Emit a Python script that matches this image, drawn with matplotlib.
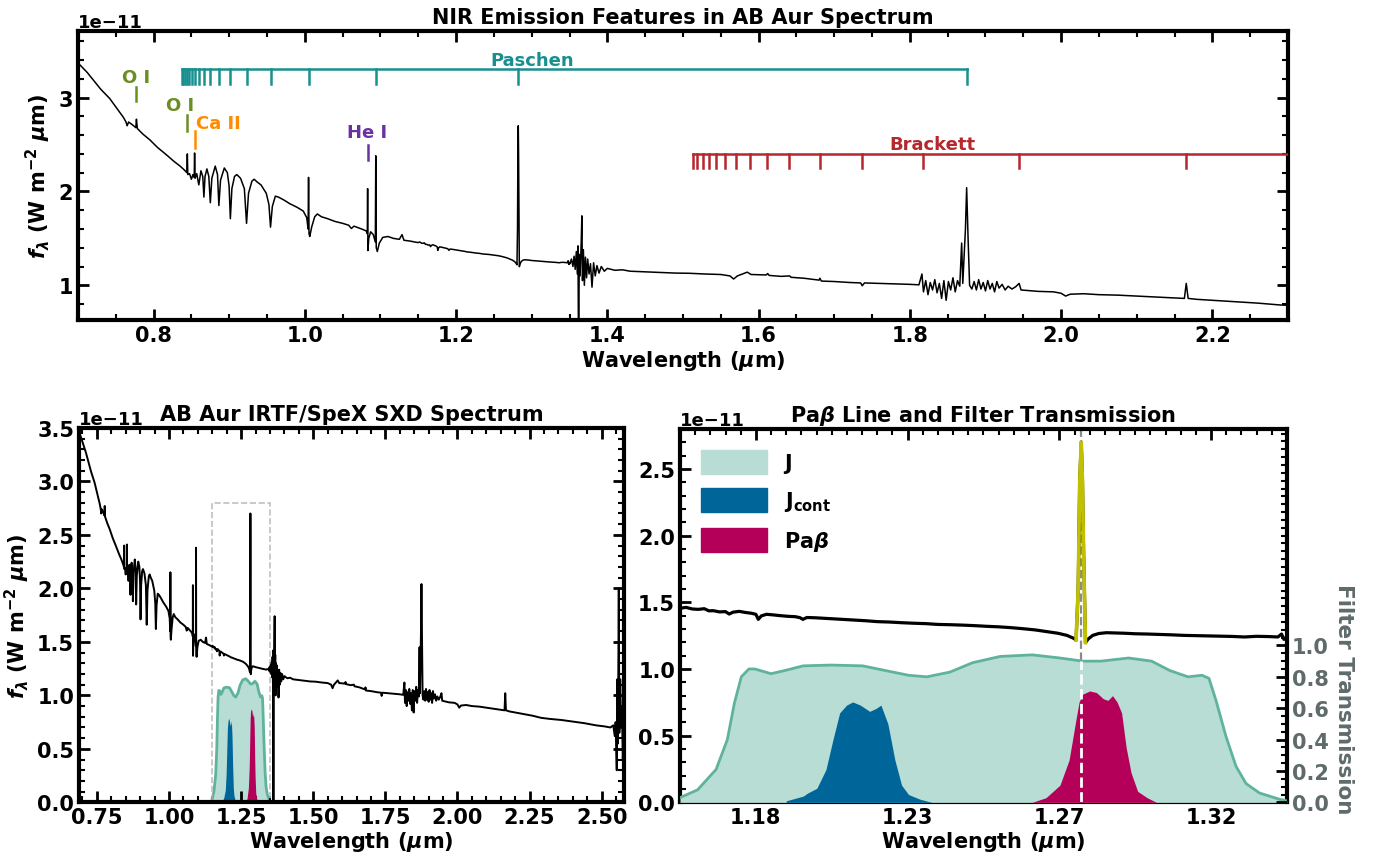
import numpy as np
import matplotlib
matplotlib.use("Agg")
import matplotlib.pyplot as plt
from matplotlib.ticker import AutoMinorLocator, MultipleLocator, FormatStrFormatter, FixedLocator
from matplotlib.patches import Patch, Rectangle

# ---- colours ----
PASCHEN = "#17908f"
BRACKETT = "#b5282e"
OI_C = "#6b8e23"
CAII_C = "#ff8c00"
HEI_C = "#6a32a0"
J_FILL = "#b7ddd4"
J_EDGE = "#5fb39c"
JCONT_C = "#00669a"
PAB_C = "#b5005a"
CORE_C = "#c0c000"
GRAYT = "#5f6a6a"

plt.rcParams.update({
    "font.family": "DejaVu Sans",
    "font.weight": "bold",
    "axes.labelweight": "bold",
    "axes.titleweight": "bold",
    "font.size": 15,
    "mathtext.fontset": "dejavusans",
    "xtick.direction": "in",
    "ytick.direction": "in",
    "xtick.top": True,
    "ytick.right": True,
    "axes.linewidth": 3,
    "xtick.major.size": 8, "ytick.major.size": 8,
    "xtick.major.width": 2, "ytick.major.width": 2,
    "xtick.minor.size": 4.5, "ytick.minor.size": 4.5,
    "xtick.minor.width": 1.5, "ytick.minor.width": 1.5,
    "xtick.labelsize": 15, "ytick.labelsize": 15,
})

# ---- spectrum (flux in units of 1e-11 W m^-2 um) ----
blue_pts = [
    (0.688, 3.46), (0.694, 3.42), (0.700, 3.37), (0.706, 3.32), (0.712, 3.27),
    (0.720, 3.19), (0.730, 3.09), (0.742, 2.99), (0.752, 2.88), (0.760, 2.79),
    (0.7635, 2.74), (0.7650, 2.70), (0.7670, 2.74), (0.772, 2.71), (0.7765, 2.68),
    (0.7773, 2.77), (0.7785, 2.67), (0.786, 2.61), (0.795, 2.55), (0.805, 2.47),
    (0.817, 2.39), (0.827, 2.32), (0.835, 2.27), (0.8405, 2.23), (0.8440, 2.20),
    (0.8446, 2.40), (0.8452, 2.18), (0.8475, 2.19), (0.8500, 2.13), (0.8520, 2.18),
    (0.8537, 2.15), (0.8542, 2.41), (0.8548, 2.14), (0.8570, 2.19), (0.8598, 2.07),
    (0.8626, 2.22), (0.8650, 2.16), (0.8665, 1.94), (0.8680, 2.16), (0.8705, 2.24),
    (0.8730, 2.16), (0.8750, 1.88), (0.8770, 2.14), (0.8815, 2.27), (0.8845, 2.18),
    (0.8863, 1.85), (0.8885, 2.12), (0.8935, 2.25), (0.8975, 2.20), (0.8998, 2.06),
    (0.9015, 1.71), (0.9035, 2.03), (0.9070, 2.16), (0.9100, 2.18), (0.9150, 2.14),
    (0.9200, 2.03), (0.9229, 1.66), (0.9255, 1.98), (0.9300, 2.11), (0.9330, 2.13),
    (0.9370, 2.10), (0.9420, 2.07), (0.9490, 1.98), (0.9525, 1.86), (0.9546, 1.62),
    (0.9570, 1.84), (0.9610, 1.95), (0.9650, 1.94), (0.9720, 1.91), (0.9800, 1.87),
    (0.9900, 1.83), (0.9980, 1.79), (1.0025, 1.72), (1.0043, 1.60), (1.0049, 2.15),
    (1.0055, 1.55), (1.0065, 1.52), (1.0090, 1.62), (1.0130, 1.73), (1.0165, 1.76),
    (1.0220, 1.73), (1.0300, 1.71), (1.0400, 1.68), (1.0500, 1.66), (1.0580, 1.64),
    (1.0615, 1.605), (1.0650, 1.63), (1.0750, 1.60), (1.0810, 1.58), (1.0826, 1.55),
    (1.0830, 2.03), (1.0834, 1.37), (1.0845, 1.50), (1.0870, 1.57), (1.0905, 1.54),
    (1.0932, 1.46), (1.0938, 2.38), (1.0944, 1.40), (1.0958, 1.36), (1.0985, 1.45),
    (1.1030, 1.51), (1.1100, 1.52), (1.1170, 1.50), (1.1250, 1.49), (1.1285, 1.54),
    (1.1310, 1.48), (1.1400, 1.47), (1.1460, 1.46),
]

# J-band region around Pa beta (also shown in the zoom panel)
pab_pts = [
    (1.1500, 1.455), (1.1520, 1.462), (1.1540, 1.450), (1.1560, 1.447), (1.1580, 1.452),
    (1.1595, 1.436), (1.1610, 1.437), (1.1630, 1.428), (1.1650, 1.430), (1.1662, 1.412),
    (1.1675, 1.426), (1.1695, 1.432), (1.1715, 1.424), (1.1735, 1.418), (1.1750, 1.410),
    (1.1758, 1.372), (1.1768, 1.398), (1.1785, 1.410), (1.1805, 1.406), (1.1830, 1.400),
    (1.1855, 1.395), (1.1880, 1.392), (1.1895, 1.385), (1.1905, 1.372), (1.1918, 1.386),
    (1.1945, 1.384), (1.1975, 1.380), (1.2005, 1.376), (1.2040, 1.371), (1.2075, 1.366),
    (1.2110, 1.362), (1.2150, 1.355), (1.2190, 1.352), (1.2230, 1.347), (1.2270, 1.343),
    (1.2310, 1.340), (1.2350, 1.334), (1.2390, 1.332), (1.2430, 1.329), (1.2470, 1.325),
    (1.2510, 1.320), (1.2550, 1.316), (1.2590, 1.310), (1.2630, 1.302), (1.2670, 1.293),
    (1.2710, 1.280), (1.2745, 1.268), (1.2775, 1.252), (1.2795, 1.232), (1.2805, 1.218),
    (1.2812, 1.600), (1.2817, 2.400), (1.2822, 2.700), (1.2826, 2.420), (1.2830, 1.850),
    (1.2836, 1.198), (1.2845, 1.225), (1.2860, 1.252), (1.2880, 1.266), (1.2905, 1.272),
    (1.2935, 1.270), (1.2965, 1.268), (1.3000, 1.264), (1.3040, 1.262), (1.3080, 1.259),
    (1.3120, 1.256), (1.3160, 1.252), (1.3200, 1.250), (1.3240, 1.248), (1.3280, 1.246),
    (1.3320, 1.244), (1.3360, 1.240), (1.3400, 1.245), (1.3440, 1.243), (1.3470, 1.240),
    (1.3482, 1.262), (1.3490, 1.222), (1.3500, 1.242),
]

red_pts = [
    (1.3505, 1.23), (1.3525, 1.28), (1.3545, 1.20), (1.3560, 1.31), (1.3575, 1.17),
    (1.3590, 1.36), (1.3603, 1.12), (1.3612, 1.42), (1.3620, 0.02), (1.3628, 1.33),
    (1.3640, 1.10), (1.3655, 1.48), (1.3663, 1.74), (1.3671, 1.05), (1.3683, 1.38),
    (1.3696, 1.00), (1.3710, 1.30), (1.3725, 1.08), (1.3740, 1.28), (1.3758, 1.12),
    (1.3777, 1.23), (1.3797, 0.98), (1.3818, 1.24), (1.3840, 1.10), (1.3862, 1.21),
    (1.3890, 1.13), (1.3920, 1.20), (1.3960, 1.15), (1.4000, 1.18), (1.4100, 1.16),
    (1.4200, 1.165), (1.4300, 1.15), (1.4450, 1.145), (1.4600, 1.14), (1.4750, 1.135),
    (1.4900, 1.13), (1.5080, 1.128), (1.5300, 1.12), (1.5500, 1.115), (1.5620, 1.10),
    (1.5670, 1.067), (1.5720, 1.10), (1.5850, 1.14), (1.5900, 1.115), (1.6100, 1.11),
    (1.6120, 1.125), (1.6140, 1.105), (1.6300, 1.095), (1.6410, 1.10), (1.6430, 1.085),
    (1.6600, 1.075), (1.6800, 1.055), (1.6810, 1.075), (1.6830, 1.045), (1.7000, 1.04),
    (1.7200, 1.03), (1.7350, 1.025), (1.7370, 0.995), (1.7400, 1.025), (1.7600, 1.02),
    (1.7800, 1.015), (1.8000, 1.01), (1.8120, 1.005), (1.8160, 1.12), (1.8180, 0.93),
    (1.8210, 1.05), (1.8240, 0.90), (1.8270, 1.03), (1.8300, 0.95), (1.8330, 1.06),
    (1.8360, 0.92), (1.8390, 1.02), (1.8420, 0.86), (1.8450, 1.05), (1.8480, 0.84),
    (1.8510, 1.04), (1.8540, 0.95), (1.8570, 1.08), (1.8600, 0.93), (1.8630, 1.05),
    (1.8660, 0.99), (1.8685, 1.45), (1.8700, 1.02), (1.8735, 1.60), (1.8751, 2.04),
    (1.8770, 1.50), (1.8790, 1.00), (1.8820, 0.96), (1.8850, 1.04), (1.8880, 0.95),
    (1.8910, 1.06), (1.8940, 0.96), (1.8970, 1.03), (1.9000, 0.94), (1.9030, 1.05),
    (1.9060, 0.96), (1.9090, 1.02), (1.9120, 0.93), (1.9150, 1.04), (1.9180, 0.97),
    (1.9220, 1.01), (1.9260, 0.95), (1.9300, 0.99), (1.9350, 0.96), (1.9400, 0.985),
    (1.9445, 1.02), (1.9470, 0.95), (1.9550, 0.945), (1.9700, 0.935), (1.9900, 0.93),
    (2.0000, 0.915), (2.0060, 0.885), (2.0120, 0.905), (2.0300, 0.91), (2.0500, 0.90),
    (2.0750, 0.895), (2.1000, 0.885), (2.1250, 0.875), (2.1500, 0.865), (2.1630, 0.86),
    (2.1655, 1.02), (2.1680, 0.86), (2.1800, 0.85), (2.2000, 0.84), (2.2300, 0.825),
    (2.2600, 0.81), (2.2900, 0.79), (2.3200, 0.78), (2.3600, 0.77), (2.4000, 0.755),
    (2.4400, 0.74), (2.4800, 0.72), (2.5100, 0.71), (2.5300, 0.70), (2.5400, 0.72),
    (2.5450, 0.62), (2.5480, 0.75), (2.5520, 0.30), (2.5540, 1.15), (2.5560, 0.55),
    (2.5590, 2.00), (2.5610, 0.65), (2.5640, 1.15), (2.5670, 0.70), (2.5700, 0.90),
    (2.5730, 0.40), (2.5760, 0.70),
]

spec = np.array(blue_pts + pab_pts + red_pts)
wl = spec[:, 0]
flux = spec[:, 1] * 1e-11

# ---- filter transmission curves ----
j_wl = [1.150, 1.1558, 1.1619, 1.1656, 1.1679, 1.1702, 1.1727, 1.1747, 1.180, 1.1845,
        1.1906, 1.1996, 1.2102, 1.2177, 1.2253, 1.2313, 1.2389, 1.2464, 1.2555, 1.2661,
        1.2752, 1.2827, 1.2887, 1.2978, 1.3054, 1.3114, 1.3174, 1.3220, 1.3243, 1.3266,
        1.3299, 1.3332, 1.3365, 1.3409, 1.3475, 1.3500]
j_tr = [0.03, 0.08, 0.21, 0.40, 0.63, 0.80, 0.85, 0.85, 0.82, 0.84,
        0.87, 0.875, 0.87, 0.84, 0.81, 0.80, 0.83, 0.89, 0.93, 0.94,
        0.92, 0.90, 0.90, 0.92, 0.90, 0.84, 0.80, 0.81, 0.79, 0.65,
        0.42, 0.23, 0.12, 0.06, 0.02, 0.01]

jcont_wl = [1.1850, 1.1906, 1.1921, 1.1951, 1.1981, 1.2004, 1.2026, 1.2049, 1.2069, 1.2094,
            1.2125, 1.2147, 1.2162, 1.2185, 1.2208, 1.2230, 1.2253, 1.2291, 1.2330]
jcont_tr = [0.01, 0.04, 0.06, 0.09, 0.21, 0.40, 0.57, 0.62, 0.64, 0.62,
            0.58, 0.60, 0.62, 0.50, 0.27, 0.11, 0.05, 0.02, 0.00]

pab_wl = [1.2660, 1.2706, 1.2752, 1.2782, 1.2804, 1.2815, 1.2827, 1.2850, 1.2872, 1.2895,
          1.2910, 1.2925, 1.2940, 1.2955, 1.2970, 1.2986, 1.3008, 1.3039, 1.3070]
pab_tr = [0.00, 0.03, 0.11, 0.27, 0.52, 0.64, 0.69, 0.71, 0.70, 0.66,
          0.65, 0.68, 0.64, 0.57, 0.35, 0.19, 0.07, 0.03, 0.00]

# ---- line identifications ----
paschen_wl = [1.8751, 1.2818, 1.0938, 1.0049, 0.9546, 0.9229, 0.9015, 0.8863, 0.8750,
              0.8665, 0.8598, 0.8545, 0.8502, 0.8467, 0.8437, 0.8413, 0.8392, 0.8374]
brackett_wl = [2.6252, 2.1655, 1.9445, 1.8174, 1.7362, 1.6806, 1.6407, 1.6109, 1.5881,
               1.5701, 1.5557, 1.5439, 1.5341, 1.5261, 1.5192, 1.5133]
# label, line wavelength, text x, text y (bottom), tick bottom, tick top, colour, ha
single_lines = [
    ("O I", 0.7773, 0.7773, 3.12, 2.96, 3.11, OI_C, "center"),
    ("O I", 0.8446, 0.8350, 2.82, 2.64, 2.81, OI_C, "center"),
    ("Ca II", 0.8542, 0.8555, 2.63, 2.46, 2.64, CAII_C, "left"),
    ("He I", 1.0830, 1.0825, 2.54, 2.33, 2.49, HEI_C, "center"),
]
PAB_CENTER = 1.2822
U = 1e-11

fig = plt.figure(figsize=(13.9, 8.62), dpi=100)

# ================= top panel =================
ax = fig.add_axes([0.0561, 0.6276, 0.8705, 0.3353])
ax.plot(wl, flux, color="black", lw=1.1, zorder=3)
ax.set_xlim(0.70, 2.30)
ax.set_ylim(0.63 * U, 3.71 * U)
ax.xaxis.set_major_locator(MultipleLocator(0.2))
ax.xaxis.set_minor_locator(AutoMinorLocator())
ax.yaxis.set_major_locator(MultipleLocator(1 * U))
ax.yaxis.set_minor_locator(AutoMinorLocator())
ax.yaxis.get_offset_text().set_fontsize(13)
ax.set_xlabel(r"Wavelength ($\mathbfit{\mu}$m)", fontsize=15, labelpad=2)
ax.set_ylabel(r"$\mathbfit{f}_{\mathbfit{\lambda}}$ (W m$^{\mathbf{-2}}$ $\mathbfit{\mu}$m)", fontsize=15)
ax.set_title("NIR Emission Features in AB Aur Spectrum", fontsize=15)

# Paschen series
for w in paschen_wl:
    ax.plot([w, w], [3.15 * U, 3.30 * U], color=PASCHEN, lw=1.8, zorder=4)
ax.plot([min(paschen_wl), max(paschen_wl)], [3.30 * U, 3.30 * U], color=PASCHEN, lw=1.8, zorder=4)
ax.text(1.30, 3.31 * U, "Paschen", color=PASCHEN, fontsize=13, ha="center", va="bottom")

# Brackett series
for w in brackett_wl:
    ax.plot([w, w], [2.245 * U, 2.40 * U], color=BRACKETT, lw=1.8, zorder=4)
ax.plot([min(brackett_wl), max(brackett_wl)], [2.40 * U, 2.40 * U], color=BRACKETT, lw=1.8, zorder=4)
ax.text(1.83, 2.41 * U, "Brackett", color=BRACKETT, fontsize=13, ha="center", va="bottom")

for name, w, tx, ty, lo, hi, col, ha in single_lines:
    ax.plot([w, w], [lo * U, hi * U], color=col, lw=1.8, zorder=4)
    ax.text(tx, ty * U, name, color=col, fontsize=13, ha=ha, va="bottom")

# ================= bottom-left panel =================
SCALE = 1.23 * U
ax1 = fig.add_axes([0.0568, 0.068, 0.3921, 0.4345])
ax1.fill_between(j_wl, np.array(j_tr) * SCALE, color=J_FILL, lw=0, zorder=1)
ax1.plot(j_wl, np.array(j_tr) * SCALE, color=J_EDGE, lw=2, zorder=1.5)
ax1.fill_between(jcont_wl, np.array(jcont_tr) * SCALE, color=JCONT_C, lw=0, zorder=2)
ax1.fill_between(pab_wl, np.array(pab_tr) * SCALE, color=PAB_C, lw=0, zorder=2)
ax1.add_patch(Rectangle((1.15, 0), 0.20, 2.8 * U, fill=False, ls="--", ec="#c0c0c0", lw=1.2, zorder=2.5))
ax1.plot(wl, flux, color="black", lw=1.4, zorder=3)
ax1.set_xlim(0.688, 2.577)
ax1.set_ylim(0, 3.5 * U)
ax1.xaxis.set_major_locator(MultipleLocator(0.25))
ax1.xaxis.set_minor_locator(AutoMinorLocator())
ax1.yaxis.set_major_locator(MultipleLocator(0.5 * U))
ax1.yaxis.set_minor_locator(AutoMinorLocator())
ax1.yaxis.get_offset_text().set_fontsize(13)
ax1.set_xlabel(r"Wavelength ($\mathbfit{\mu}$m)", fontsize=15, labelpad=1)
ax1.set_ylabel(r"$\mathbfit{f}_{\mathbfit{\lambda}}$ (W m$^{\mathbf{-2}}$ $\mathbfit{\mu}$m)", fontsize=15)
ax1.set_title("AB Aur IRTF/SpeX SXD Spectrum", fontsize=15)

# ================= bottom-right panel =================
ax2 = fig.add_axes([0.4892, 0.068, 0.4367, 0.4333])
ax2.axvline(PAB_CENTER, color="#8a8a8a", ls="--", lw=1.6, zorder=1)
ax2.plot(wl, flux, color="black", lw=2.3, zorder=3)
core = (wl >= 1.2804) & (wl <= 1.2837)
ax2.plot(wl[core], flux[core], color=CORE_C, lw=2.6, zorder=4)
ax2.set_xlim(1.15, 1.35)
ax2.set_ylim(0, 2.8 * U)
ax2.xaxis.set_major_locator(FixedLocator([1.175, 1.225, 1.275, 1.325]))
ax2.xaxis.set_major_formatter(FormatStrFormatter("%.2f"))
ax2.xaxis.set_minor_locator(AutoMinorLocator(10))
ax2.yaxis.set_major_locator(MultipleLocator(0.5 * U))
ax2.yaxis.set_minor_locator(AutoMinorLocator())
ax2.yaxis.get_offset_text().set_fontsize(13)
ax2.set_xlabel(r"Wavelength ($\mathbfit{\mu}$m)", fontsize=15, labelpad=1)
ax2.set_title(r"Pa$\mathbfit{\beta}$ Line and Filter Transmission", fontsize=15)

tw = ax2.twinx()
tw.fill_between(j_wl, j_tr, color=J_FILL, lw=0, zorder=1)
tw.plot(j_wl, j_tr, color=J_EDGE, lw=2, zorder=1.5)
tw.fill_between(jcont_wl, jcont_tr, color=JCONT_C, lw=0, zorder=2)
tw.fill_between(pab_wl, pab_tr, color=PAB_C, lw=0, zorder=2)
j_at_pab = np.interp(PAB_CENTER, j_wl, j_tr)
tw.plot([PAB_CENTER, PAB_CENTER], [0, j_at_pab], color="white", ls="--", lw=2, zorder=3)
tw.set_ylim(0, 2.38)
tw.yaxis.set_major_locator(FixedLocator([0.0, 0.2, 0.4, 0.6, 0.8, 1.0]))
tw.yaxis.set_major_formatter(FormatStrFormatter("%.1f"))
tw.yaxis.set_minor_locator(AutoMinorLocator())
tw.tick_params(axis="y", which="both", direction="in", labelcolor=GRAYT)
for s in tw.spines.values():
    s.set_visible(False)
tw.set_ylabel("Filter Transmission", color=GRAYT, fontsize=15.5, rotation=270,
              va="bottom", y=0.28)

handles = [Patch(facecolor=J_FILL, edgecolor=J_FILL, label="J"),
           Patch(facecolor=JCONT_C, edgecolor=JCONT_C, label=r"J$_{\mathbf{cont}}$"),
           Patch(facecolor=PAB_C, edgecolor=PAB_C, label=r"Pa$\mathbfit{\beta}$")]
tw.legend(handles=handles, loc="upper left", frameon=False, fontsize=15,
          handlelength=3.2, handleheight=1.4, labelspacing=0.7, borderaxespad=0.6)

fig.savefig("out.png", dpi=100)
